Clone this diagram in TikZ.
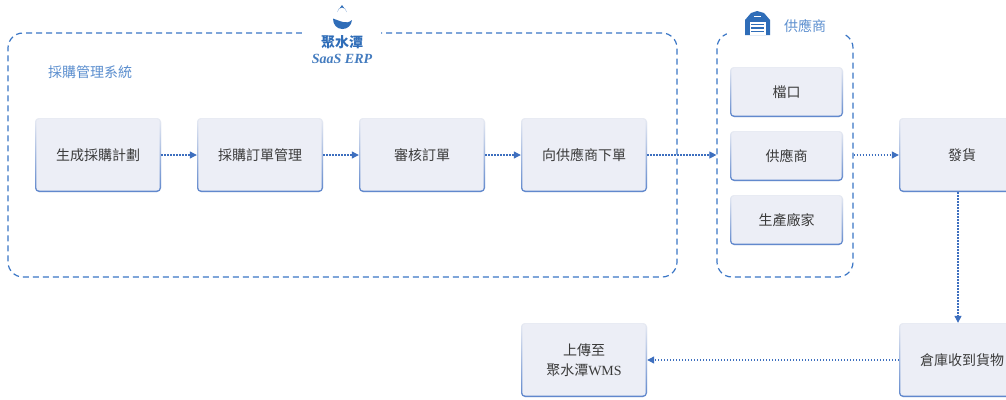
\documentclass[tikz,border=0pt]{standalone}
\usepackage{fontspec}
\setmainfont{Liberation Serif}
\newfontfamily\cjk{Noto Sans CJK TC}
\usetikzlibrary{arrows.meta}
\definecolor{dashblue}{HTML}{3A76C6}
\definecolor{arrblue}{HTML}{3D6FBF}
\definecolor{boxfill}{HTML}{ECEEF6}
\definecolor{bordtop}{HTML}{E8EBF3}
\definecolor{bordbot}{HTML}{5F87CC}
\definecolor{txt}{HTML}{3A3A3A}
\definecolor{lblblue}{HTML}{5C8FCF}
\definecolor{logoblue}{HTML}{2F6DB8}
\begin{document}
\begin{tikzpicture}[x=1pt,y=-1pt,
  box/.style={rounded corners=4pt, minimum width=126pt, minimum height=74pt, inner sep=0pt,
    fill=boxfill, text=txt, font=\cjk\fontsize{14}{20}\selectfont, align=center,
    path picture={
      \shade[top color=bordtop, bottom color=bordbot]
        (path picture bounding box.south west) rectangle (path picture bounding box.north east);
      \fill[boxfill, rounded corners=3pt]
        ([shift={(1.3pt,1.5pt)}]path picture bounding box.south west) rectangle
        ([shift={(-1.3pt,-1.1pt)}]path picture bounding box.north east);
    }},
  smallbox/.style={box, minimum width=113pt, minimum height=50pt},
  group/.style={draw=dashblue, line width=1.2pt, dash pattern=on 6pt off 4pt, rounded corners=15pt},
  flow/.style={draw=arrblue, line width=1.15pt, dash pattern=on 1.3pt off 1.7pt,
    -{Triangle[length=7pt,width=7pt]}},
  lbl/.style={text=lblblue, font=\cjk\fontsize{14}{16}\selectfont, inner sep=0pt}
]
\useasboundingbox (0,0) rectangle (1006,399);
\fill[white] (0,0) rectangle (1006,399);

% group frames
\node[group, minimum width=669pt, minimum height=244pt] (sys) at (342.5,155) {};
\node[group, minimum width=136pt, minimum height=244pt] (grp) at (785,155) {};
\fill[white] (302,26) rectangle (381,40);
\fill[white] (727,26) rectangle (843,40);

% logo
\fill[logoblue] (342,5) .. controls (343,8) and (346.5,9.5) .. (346.5,12)
  arc[start angle=0, end angle=-180, radius=4.5] .. controls (337.5,9.5) and (341,8) .. (342,5) -- cycle;
\fill[logoblue] (333,18.5) .. controls (333,25) and (337,29) .. (342.5,29)
  .. controls (347.5,29) and (351.5,25.5) .. (352,20)
  .. controls (349,22.5) and (346,23) .. (343,22)
  .. controls (339,21) and (336,19.5) .. (333,18.5) -- cycle;
\node[text=logoblue, font=\cjk\bfseries\fontsize{14}{16}\selectfont, inner sep=0pt] (logo) at (342,42) {聚水潭};
\node[text=logoblue!90, font=\bfseries\itshape\fontsize{14}{16}\selectfont, inner sep=0pt] (erp) at (342,59) {SaaS ERP};

% warehouse icon
\fill[logoblue] (745,35) -- (745,20) -- (751,13) -- (757,11) -- (764,13) -- (770,20) -- (770,35) -- cycle;
\fill[white] (749.5,22) rectangle (765.5,35);
\fill[white] (754,16.2) rectangle (761,17.4);
\foreach \yy in {23.5,27,30.5} \fill[logoblue] (751,\yy) rectangle (764,\yy+1.8);
\node[lbl] (suplbl) at (805,26) {供應商};

\node[lbl] (syslbl) at (90,72) {採購管理系統};

% process boxes
\node[box] (b1) at (98,155) {生成採購計劃};
\node[box] (b2) at (260,155) {採購訂單管理};
\node[box] (b3) at (422,155) {審核訂單};
\node[box] (b4) at (584,155) {向供應商下單};

\node[smallbox] (s1) at (786.5,92) {檔口};
\node[smallbox] (s2) at (786.5,156) {供應商};
\node[smallbox] (s3) at (786.5,220) {生產廠家};

\node[box] (fh) at (962,155) {發貨};
\node[box] (ck) at (962,360) {倉庫收到貨物};
\node[box] (wms) at (584,360) {上傳至\\{\cjk 聚水潭}\fontspec{Liberation Serif}WMS};

% connectors
\draw[flow] (b1) -- (b2);
\draw[flow] (b2) -- (b3);
\draw[flow] (b3) -- (b4);
\draw[flow] (b4.east) -- (b4.east -| grp.west);
\draw[flow] (fh.west -| grp.east) -- (fh.west);
\draw[flow] ([xshift=-4pt]fh.south) -- ([xshift=-4pt]ck.north);
\draw[flow] (ck.west) -- (wms.east);
\end{tikzpicture}
\end{document}
